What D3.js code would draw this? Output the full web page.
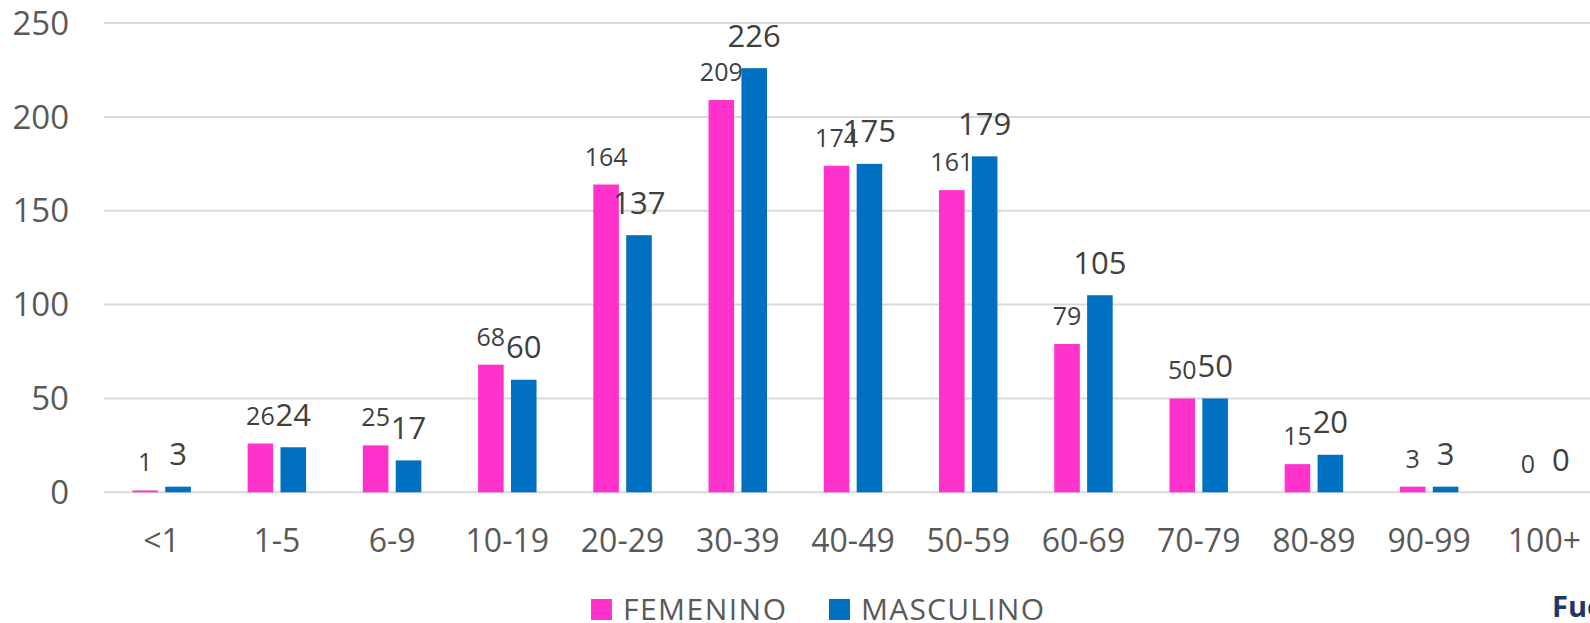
<!DOCTYPE html>
<html>
<head>
<meta charset="utf-8">
<script src="https://cdn.jsdelivr.net/npm/d3@7"></script>
<style>
  body { margin: 0; background: #fff; overflow: hidden; }
  svg { display: block; font-family: "Open Sans", sans-serif; }
</style>
</head>
<body>
<div id="chart"></div>
<script>
const categories = ["<1", "1-5", "6-9", "10-19", "20-29", "30-39", "40-49", "50-59", "60-69", "70-79", "80-89", "90-99", "100+"];
const femenino = [1, 26, 25, 68, 164, 209, 174, 161, 79, 50, 15, 3, 0];
const masculino = [3, 24, 17, 60, 137, 226, 175, 179, 105, 50, 20, 3, 0];
const seriesNames = ["FEMENINO", "MASCULINO"];
const yTicks = [0, 50, 100, 150, 200, 250];

const width = 1590;
const height = 623;
const colors = { FEMENINO: "#FF33CC", MASCULINO: "#0070C0" };

const svg = d3
  .select("#chart")
  .append("svg")
  .attr("width", width)
  .attr("height", height);

// the plot runs past the right edge, like the original crop
const x = d3.scaleBand().domain(categories).range([104, 1602]);
const xs = d3
  .scaleBand()
  .domain(seriesNames)
  .range([0, x.bandwidth()])
  .paddingInner(0.222)
  .paddingOuter(0.863);
const y = d3.scaleLinear().domain([0, 250]).range([492.3, 23.1]);

// gridlines
svg
  .append("g")
  .selectAll("line")
  .data(yTicks)
  .join("line")
  .attr("x1", 104)
  .attr("x2", width)
  .attr("y1", (d) => y(d))
  .attr("y2", (d) => y(d))
  .attr("stroke", "#d9d9d9")
  .attr("stroke-width", 2);

// y axis labels
svg
  .append("g")
  .selectAll("text")
  .data(yTicks)
  .join("text")
  .attr("x", 69)
  .attr("y", (d) => y(d) + 11.7)
  .attr("text-anchor", "end")
  .attr("fill", "#595959")
  .style("font-size", "33px")
  .text((d) => d);

// category labels
svg
  .append("g")
  .selectAll("text")
  .data(categories)
  .join("text")
  .attr("x", (d) => x(d) + x.bandwidth() / 2)
  .attr("y", 551.5)
  .attr("text-anchor", "middle")
  .attr("fill", "#595959")
  .style("font-size", "32px")
  .text((d) => d);

const rows = categories.map((c, i) => ({
  cat: c,
  values: [
    { key: "FEMENINO", value: femenino[i] },
    { key: "MASCULINO", value: masculino[i] },
  ],
}));

const groups = svg
  .append("g")
  .selectAll("g")
  .data(rows)
  .join("g")
  .attr("transform", (d) => `translate(${x(d.cat)},0)`);

groups
  .selectAll("rect")
  .data((d) => d.values)
  .join("rect")
  .attr("x", (d) => xs(d.key))
  .attr("width", xs.bandwidth())
  .attr("y", (d) => y(d.value))
  .attr("height", (d) => y(0) - y(d.value))
  .attr("fill", (d) => colors[d.key]);

// data labels: femenino smaller than masculino
groups
  .selectAll("text")
  .data((d) => d.values)
  .join("text")
  .attr("x", (d) => xs(d.key) + xs.bandwidth() / 2)
  .attr("y", (d) => y(d.value) - (d.key === "FEMENINO" ? 19 : 21.6))
  .attr("text-anchor", "middle")
  .attr("fill", "#404040")
  .style("font-size", (d) => (d.key === "FEMENINO" ? "25px" : "31px"))
  .text((d) => d.value);

// legend
const legendPos = [
  { key: "FEMENINO", x: 591, len: 163 },
  { key: "MASCULINO", x: 829, len: 183 },
];
const legend = svg
  .append("g")
  .selectAll("g")
  .data(legendPos)
  .join("g")
  .attr("transform", (d) => `translate(${d.x},599)`);

legend
  .append("rect")
  .attr("width", 21)
  .attr("height", 21)
  .attr("fill", (d) => colors[d.key]);

legend
  .append("text")
  .attr("x", 32)
  .attr("y", 20.5)
  .attr("fill", "#595959")
  .attr("textLength", (d) => d.len)
  .attr("lengthAdjust", "spacing")
  .style("font-size", "30px")
  .text((d) => d.key);

// source note, cut by the right edge
svg
  .append("text")
  .attr("x", 1552)
  .attr("y", 617)
  .attr("fill", "#1F3864")
  .style("font-size", "29px")
  .style("font-weight", "bold")
  .text("Fuente:");
</script>
</body>
</html>
